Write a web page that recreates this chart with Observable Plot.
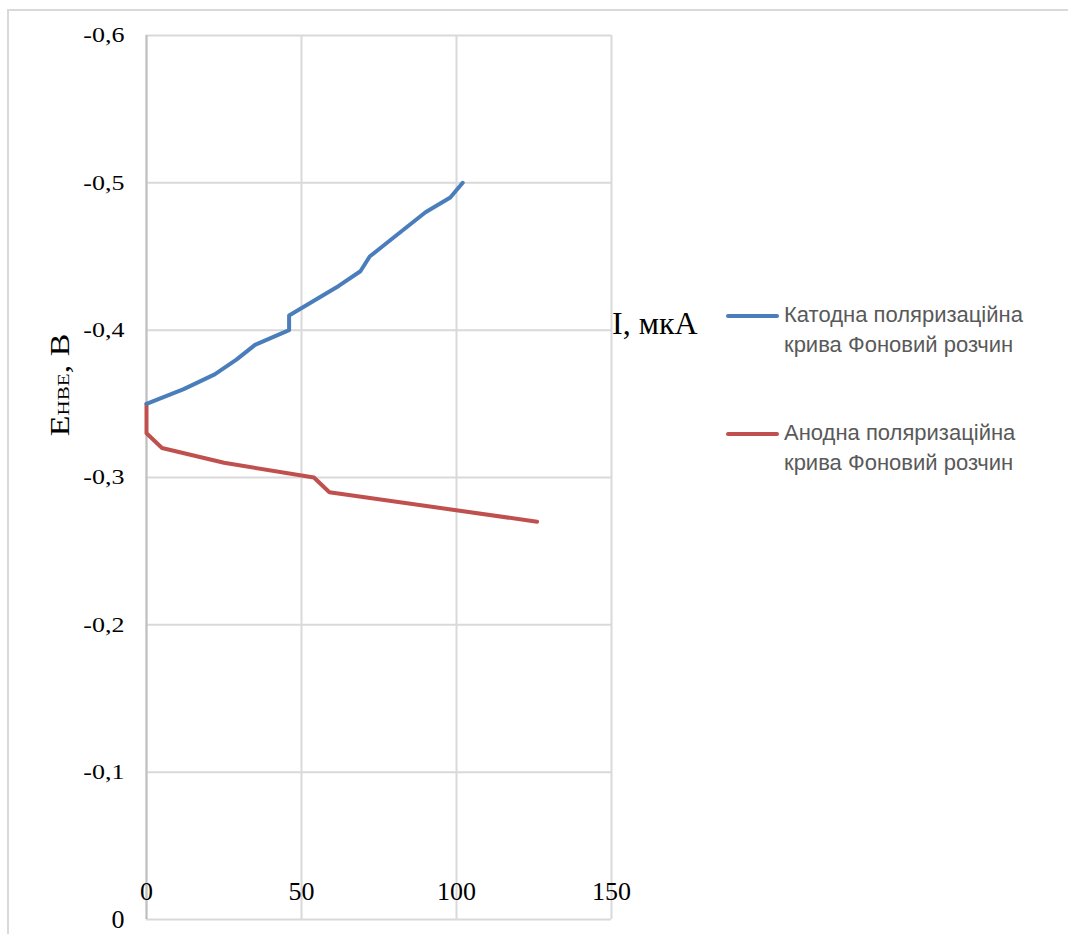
<!DOCTYPE html>
<html>
<head>
<meta charset="utf-8">
<script src="https://cdn.jsdelivr.net/npm/d3@7"></script>
<script src="https://cdn.jsdelivr.net/npm/@observablehq/plot@0.6"></script>
<style>
  html, body { margin: 0; padding: 0; background: #fff; overflow: hidden; }
  #wrap { position: relative; width: 1068px; height: 934px; }
  #border { position: absolute; left: 7px; top: 9px; width: 1080px; height: 950px; border: 2px solid #d9d9d9; box-sizing: border-box; }
  #chart { position: absolute; left: 0; top: 0; }
  .ytitle { position: absolute; font-family: "Liberation Serif", "Times New Roman", serif; font-size: 34px; line-height: 1; white-space: nowrap; color: #000;
            transform-origin: center center; }
  .ytitle .sub { font-size: 0.62em; }
  .xtitle { position: absolute; left: 612px; top: 307px; font-family: "Liberation Serif", "Times New Roman", serif; font-size: 32px; line-height: 1; color: #000; white-space: nowrap; }
  .leg { position: absolute; left: 784px; font-family: "Liberation Sans", Arial, sans-serif; font-size: 22px; line-height: 30px; color: #595959; white-space: nowrap; }
  .legline { position: absolute; left: 726px; width: 53px; height: 4px; border-radius: 2px; }
</style>
</head>
<body>
<div id="wrap">
  <div id="border"></div>
  <div id="chart"></div>
  <div class="ytitle" id="ytitle">E<span class="sub">НВЕ</span>, В</div>
  <div class="xtitle">I, мкА</div>
  <div class="legline" style="top:314px;background:#4a7ebb"></div>
  <div class="leg" style="top:300px">Катодна поляризаційна<br>крива Фоновий розчин</div>
  <div class="legline" style="top:432px;background:#c0504d"></div>
  <div class="leg" style="top:418px">Анодна поляризаційна<br>крива Фоновий розчин</div>
</div>
<script>
// Tick values
const xTicks = [0, 50, 100, 150];
const yTicks = [-0.6, -0.5, -0.4, -0.3, -0.2, -0.1, 0];

// Катодна поляризаційна крива (I, мкА ; E, В)
const cathodeI = [0, 12, 22, 29, 35, 46, 46, 54, 62, 69, 72, 78, 84, 90, 98, 102];
const cathodeE = [-0.35, -0.36, -0.37, -0.38, -0.39, -0.40, -0.41, -0.42, -0.43, -0.44, -0.45, -0.46, -0.47, -0.48, -0.49, -0.50];

// Анодна поляризаційна крива
const anodeI = [0, 0, 0, 5, 25, 54, 59, 126];
const anodeE = [-0.35, -0.34, -0.33, -0.32, -0.31, -0.30, -0.29, -0.27];

const cathode = cathodeI.map((v, i) => ({I: v, E: cathodeE[i]}));
const anode = anodeI.map((v, i) => ({I: v, E: anodeE[i]}));

const fmt = d => String(d).replace(".", ",");
const serif = "'Liberation Serif', 'Times New Roman', serif";

const chart = Plot.plot({
  width: 1068,
  height: 934,
  marginLeft: 146,
  marginRight: 457,
  marginTop: 35,
  marginBottom: 15,
  style: {fontFamily: serif, fontSize: "26px", color: "#000", background: "transparent"},
  x: {domain: [0, 150]},
  y: {domain: [-0.6, 0], reverse: true},
  marks: [
    Plot.gridY(yTicks, {stroke: "#d9d9d9", strokeOpacity: 1, strokeWidth: 2}),
    Plot.gridX(xTicks, {stroke: "#d9d9d9", strokeOpacity: 1, strokeWidth: 2}),
    Plot.ruleX([0], {stroke: "#bfbfbf", strokeWidth: 2}),
    Plot.line(anode, {x: "I", y: "E", stroke: "#c0504d", strokeWidth: 4}),
    Plot.line(cathode, {x: "I", y: "E", stroke: "#4a7ebb", strokeWidth: 4}),
    Plot.axisX(xTicks, {tickSize: 0, tickPadding: 0, dy: -38, label: null, tickFormat: fmt, fontSize: 26, fontFamily: serif}),
    Plot.axisY(yTicks, {tickSize: 0, tickPadding: 22, label: null, tickFormat: fmt, fontSize: 26, fontFamily: serif})
  ]
});
document.getElementById("chart").appendChild(chart);

// compress y tick labels vertically like the reference
d3.select(chart).selectAll('g[aria-label="y-axis tick label"] text')
  .filter(function() { return this.textContent !== "0"; })
  .each(function() {
    const t = this.getAttribute("transform");
    if (t) {
      this.setAttribute("transform", t + " scale(1,0.82)");
    } else {
      const x = +(this.getAttribute("x") || 0), y = +(this.getAttribute("y") || 0);
      this.setAttribute("transform", `translate(${x},${y}) scale(1,0.82) translate(${-x},${-y})`);
    }
  });

// position rotated y title
const yt = document.getElementById("ytitle");
const w = yt.offsetWidth, h = yt.offsetHeight;
yt.style.left = (60 - w / 2) + "px";
yt.style.top = (385 - h / 2) + "px";
yt.style.transform = "rotate(-90deg) scaleY(0.8)";
</script>
</body>
</html>
